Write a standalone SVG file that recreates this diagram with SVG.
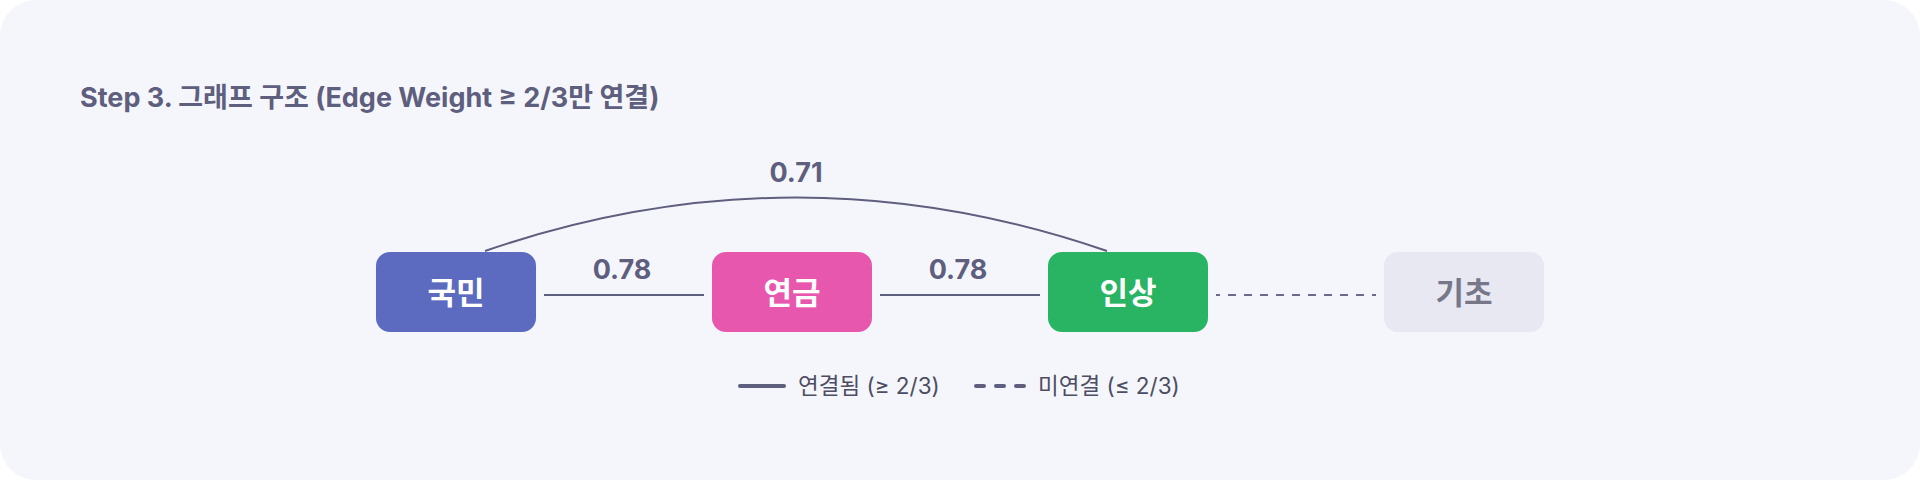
<svg xmlns="http://www.w3.org/2000/svg" width="1920" height="480" viewBox="0 0 1920 480">
<style>
.title{font-family:Inter,"Noto Sans CJK KR",sans-serif;font-weight:700;font-size:27px;fill:#5e5e7e}
.wt{font-family:Inter,"Noto Sans CJK KR",sans-serif;font-weight:700;font-size:27px;fill:#5e5e7e;text-anchor:middle}
.nl{font-family:Inter,"Noto Sans CJK KR",sans-serif;font-weight:700;font-size:31px;fill:#ffffff;text-anchor:middle;dominant-baseline:central}
.leg{font-family:Inter,"Noto Sans CJK KR",sans-serif;font-weight:400;font-size:22.5px;fill:#4d4d63}
.edge{stroke:#5e5e7e;stroke-width:2;fill:none}
.dash{stroke:#6b6a8c;stroke-width:2;fill:none;stroke-dasharray:8 8;stroke-dashoffset:4}
</style>
<rect x="0" y="0" width="1920" height="480" fill="#ffffff"/>
<rect x="0" y="0" width="1920" height="480" rx="36" fill="#f5f6fb"/>
<text class="title" x="80" y="107">Step 3. 그래프 구조 (Edge Weight ≥ 2/3만 연결)</text>
<g id="connectors">
<path class="edge" d="M485,251 Q796,144 1107,251"/>
<line class="edge" x1="544" y1="295" x2="704" y2="295"/>
<line class="edge" x1="880" y1="295" x2="1040" y2="295"/>
<line class="dash" x1="1216" y1="295" x2="1376" y2="295"/>
<text class="wt" x="796" y="182">0.71</text>
<text class="wt" x="622" y="279">0.78</text>
<text class="wt" x="958" y="279">0.78</text>
</g>
<g id="node-gukmin">
<rect x="376" y="252" width="160" height="80" rx="14" fill="#5c6bc0"/>
<text class="nl" x="456" y="292">국민</text>
</g>
<g id="node-yeongeum">
<rect x="712" y="252" width="160" height="80" rx="14" fill="#e857ae"/>
<text class="nl" x="792" y="292">연금</text>
</g>
<g id="node-insang">
<rect x="1048" y="252" width="160" height="80" rx="14" fill="#28b463"/>
<text class="nl" x="1128" y="292">인상</text>
</g>
<g id="node-gicho">
<rect x="1384" y="252" width="160" height="80" rx="14" fill="#e8e8f2"/>
<text class="nl" x="1464" y="292" style="fill:#77778a">기초</text>
</g>
<g id="legend">
<line x1="740" y1="386" x2="784" y2="386" stroke="#5e5e7e" stroke-width="4" stroke-linecap="round"/>
<text class="leg" x="798" y="394">연결됨 (≥ 2/3)</text>
<line x1="976" y1="386" x2="1024" y2="386" stroke="#5e5e7e" stroke-width="4" stroke-linecap="round" stroke-dasharray="8 12"/>
<text class="leg" x="1038" y="394">미연결 (≤ 2/3)</text>
</g>
</svg>
